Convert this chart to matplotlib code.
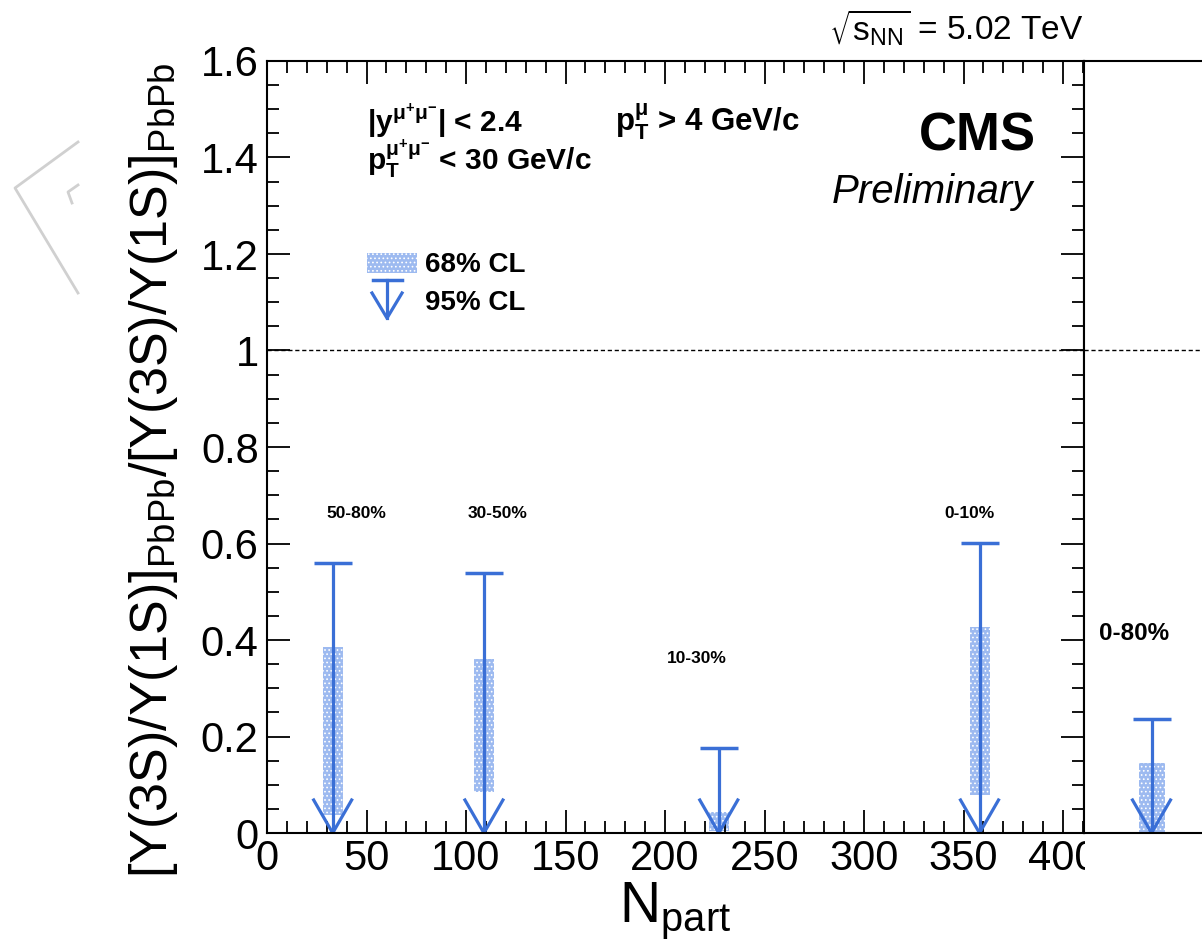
import numpy as np
import matplotlib
matplotlib.use('Agg')
import matplotlib.pyplot as plt
from matplotlib.lines import Line2D
from matplotlib.patches import Rectangle
from matplotlib.ticker import MultipleLocator, FormatStrFormatter

plt.rcParams['font.family'] = ['Liberation Sans', 'DejaVu Sans']
plt.rcParams['mathtext.default'] = 'regular'
plt.rcParams['hatch.linewidth'] = 0.7

# centrality bins (N_part dependence)
npart = [33, 109, 227, 358]
cent_labels = ['50-80%', '30-50%', '10-30%', '0-10%']
ul95 = [0.560, 0.538, 0.176, 0.602]     # 95% CL upper limits
band_lo = [0.037, 0.084, 0.005, 0.079]  # 68% CL interval
band_hi = [0.385, 0.360, 0.044, 0.426]
label_x = [45, 116, 216, 353]
label_y = [0.662, 0.662, 0.362, 0.662]

# integrated bin
int_x = 0.45
int_label = '0-80%'
int_ul95 = 0.236
int_lo = 0.0
int_hi = 0.146

blue = '#3a6fd6'
band_col = '#9dbaf0'

W, H = 1202, 947
fig = plt.figure(figsize=(W / 100, H / 100), dpi=100)
ax = fig.add_axes([267 / W, (H - 833) / H, (1084 - 267) / W, (833 - 61) / H])
ax2 = fig.add_axes([1084 / W, (H - 833) / H, 150 / W, (833 - 61) / H], zorder=3)


def draw_limits(a, xs, ul, lo, hi, px_per_x, band_px=10, cap_px=19, head_px=19):
    ppy = 772 / 1.6
    for x, u, l, h in zip(xs, ul, lo, hi):
        a.bar(x, h - l, bottom=l, width=2 * band_px / px_per_x, color=band_col,
              hatch='....', edgecolor='#ffffff', linewidth=0, zorder=1)
        a.plot([x, x], [u, 0], color=blue, lw=2.3, zorder=2, solid_capstyle='butt')
        a.plot([x - cap_px / px_per_x, x + cap_px / px_per_x], [u, u], color=blue,
               lw=2.5, zorder=2, solid_capstyle='butt')
        a.plot([x - head_px / px_per_x, x, x + head_px / px_per_x],
               [33 / ppy, 0, 33 / ppy], color=blue, lw=2.3, zorder=2)


# main panel
ax.set_xlim(0, 410.5)
ax.set_ylim(0, 1.6)
draw_limits(ax, npart, ul95, band_lo, band_hi, 817 / 410.5)
for x, y, t in zip(label_x, label_y, cent_labels):
    ax.text(x, y, t, ha='center', va='center', fontsize=12.5, fontweight='bold')
ax.axhline(1, color='black', lw=1, ls=(0, (3, 2)))

ax.xaxis.set_major_locator(MultipleLocator(50))
ax.xaxis.set_minor_locator(MultipleLocator(10))
ax.yaxis.set_major_locator(MultipleLocator(0.2))
ax.yaxis.set_minor_locator(MultipleLocator(0.05))
ax.yaxis.set_major_formatter(FormatStrFormatter('%g'))
ax.tick_params(which='both', direction='in', top=True, right=True, width=1.3)
ax.tick_params(which='major', length=16.5)
ax.tick_params(which='minor', length=8.5)
ax.tick_params(axis='x', labelsize=30, pad=4)
ax.tick_params(axis='y', labelsize=30, pad=6)
for s in ax.spines.values():
    s.set_linewidth(1.5)

ax.set_xlabel(r'$N_{part}$', fontsize=41, labelpad=1)
ax.set_ylabel(r'$[\Upsilon(3S)/\Upsilon(1S)]_{PbPb}/[\Upsilon(3S)/\Upsilon(1S)]_{PbPb}$',
              fontsize=37.5)
ax.yaxis.set_label_coords(-0.1065, 0.47)

# header texts
ax.text(0.1224, 0.9084, r'|y$^{\mu^{+}\mu^{-}}$| < 2.4', transform=ax.transAxes,
        fontsize=21.5, fontweight='bold', va='baseline')
ax.text(0.1224, 0.8588, r'p$_{T}^{\mu^{+}\mu^{-}}$ < 30 GeV/c', transform=ax.transAxes,
        fontsize=21.5, fontweight='bold', va='baseline')
ax.text(0.426, 0.9084, r'p$_{T}^{\mu}$ > 4 GeV/c', transform=ax.transAxes,
        fontsize=22.5, fontweight='bold', va='baseline')
ax.text(0.9415, 0.8847, 'CMS', transform=ax.transAxes, ha='right', va='baseline',
        fontsize=38, fontweight='bold')
ax.text(0.9376, 0.816, 'Preliminary', transform=ax.transAxes, ha='right', va='baseline',
        fontsize=29, fontstyle='italic')
fig.text(1083 / W, (H - 40) / H, r'$\sqrt{s_{NN}}$ = 5.02 TeV', ha='right',
         va='baseline', fontsize=24)

# legend
ax.add_patch(Rectangle((0.1224, 0.7254), 0.0612, 0.0259, transform=ax.transAxes,
                       facecolor=band_col, hatch='....', edgecolor='#ffffff', lw=0))
ax.plot([0.1297, 0.1652], [0.7163, 0.7163], color=blue, lw=2.5, transform=ax.transAxes)
ax.plot([0.1469, 0.1469], [0.7163, 0.667], color=blue, lw=2.3, transform=ax.transAxes)
ax.plot([0.1285, 0.1469, 0.1653], [0.6995, 0.667, 0.6995], color=blue, lw=2.3,
        transform=ax.transAxes)
ax.text(0.1934, 0.7358, '68% CL', transform=ax.transAxes, va='center', fontsize=20,
        fontweight='bold')
ax.text(0.1934, 0.6865, '95% CL', transform=ax.transAxes, va='center', fontsize=20,
        fontweight='bold')

# integrated panel
ax2.set_xlim(0, 1)
ax2.set_ylim(0, 1.6)
draw_limits(ax2, [int_x], [int_ul95], [int_lo], [int_hi], 150, band_px=13)
ax2.text(0.333, 0.4145, int_label, ha='center', va='center', fontsize=17.5,
         fontweight='bold')
ax2.axhline(1, color='black', lw=1, ls=(0, (3, 2)))
ax2.set_xticks([])
ax2.set_yticks([])
for s in ax2.spines.values():
    s.set_linewidth(1.5)

# second pad hides the end of the main x axis labels
fig.add_artist(Rectangle((1085 / W, 0), 1 - 1085 / W, (H - 835) / H,
                         transform=fig.transFigure, facecolor='white', edgecolor='none',
                         zorder=5))

# faint watermark at the left border
for pts in [[(78, 142), (15, 188), (78, 293)], [(78, 185), (68, 192), (72, 203)]]:
    xs = [p[0] / W for p in pts]
    ys = [(H - p[1]) / H for p in pts]
    fig.add_artist(Line2D(xs, ys, color='#d0d0d0', lw=2, transform=fig.transFigure))

fig.savefig('out.png', dpi=100)
